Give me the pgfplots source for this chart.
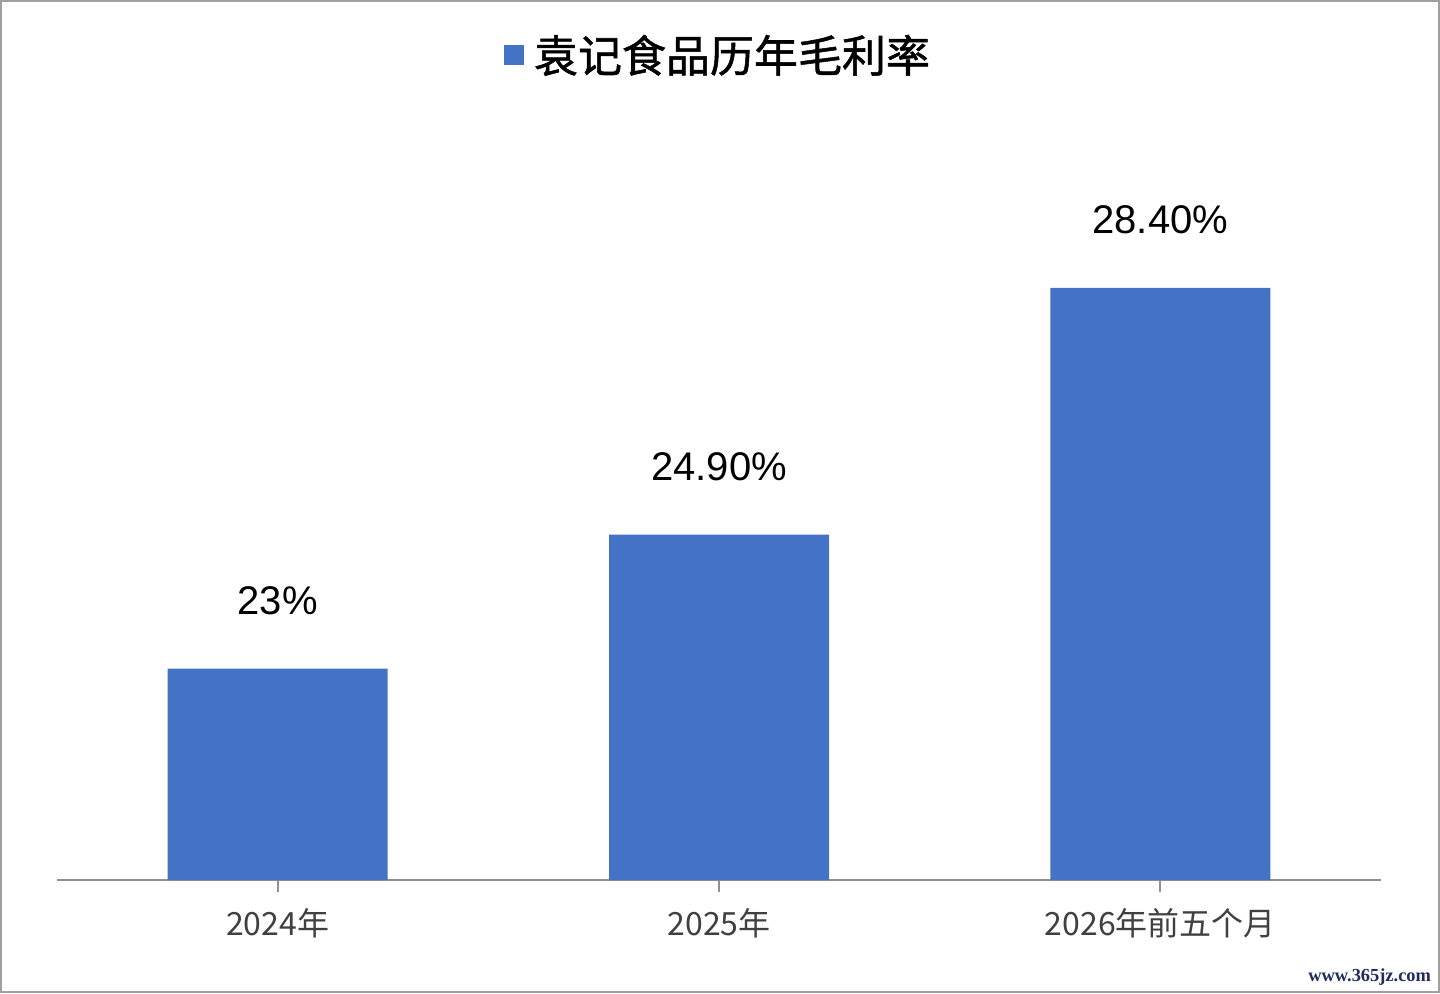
\documentclass[border=0pt]{standalone}
\usepackage{fontspec}
\setmainfont{Liberation Sans}
\newfontfamily\cjk{Noto Sans CJK SC}
\newfontfamily\cjkt[FakeBold=1.2]{Noto Sans CJK SC}
\newfontfamily\wm{Liberation Serif}
\usepackage{pgfplots}
\pgfplotsset{compat=1.18}
\definecolor{barblue}{HTML}{4472C4}
\definecolor{axgray}{HTML}{A0A0A0}
\definecolor{axline}{HTML}{909090}
\definecolor{lblgray}{HTML}{404040}
\definecolor{wmblue}{HTML}{1F2D5C}
\begin{document}
\begin{tikzpicture}
\useasboundingbox (0,0) rectangle (720pt,496.5pt);
\draw[axgray, line width=1pt] (0.5pt,0.5pt) rectangle (719.5pt,496pt);
\begin{axis}[
  at={(28.5pt,56.5pt)}, anchor=south west,
  scale only axis, width=662pt, height=352.5pt,
  ymin=20, ymax=30, xmin=-0.5, xmax=2.5,
  axis x line=bottom, axis y line=none,
  axis line style={draw=axline, line width=1.4pt, -},
  x axis line style={-},
  xtick=data, xticklabels={2024年,2025年,2026年前五个月},
  xticklabel style={font=\cjk\fontsize{16}{16}\selectfont, text=lblgray, yshift=-4.5pt},
  tick align=outside, major tick length=6pt,
  tick style={draw=axline, line width=1pt},
  ytick=\empty,
  ybar, bar width=110pt,
  point meta=explicit symbolic,
  nodes near coords,
  nodes near coords style={font=\fontsize{20}{20}\selectfont, anchor=center, yshift=34pt, text=black},
  legend style={at={(0.5,1)}, anchor=center, yshift=60pt, draw=none, fill=none,
    font=\cjkt\fontsize{22}{22}\selectfont, text=black},
  legend image code/.code={\fill[barblue] (0pt,-5pt) rectangle (10pt,5pt);},
  legend style={/tikz/every even column/.append style={column sep=0pt}, inner xsep=3pt},
  legend cell align=left,
]
\addplot[fill=barblue, draw=none] coordinates {(0,23) [23\%] (1,24.9) [24.90\%] (2,28.4) [28.40\%]};
\legend{\hspace{3pt}袁记食品历年毛利率}
\end{axis}
\node[anchor=east, text=wmblue, font=\wm\bfseries\fontsize{9.2}{9}\selectfont] at (719pt,8pt) {www.365jz.com};
\end{tikzpicture}
\end{document}
